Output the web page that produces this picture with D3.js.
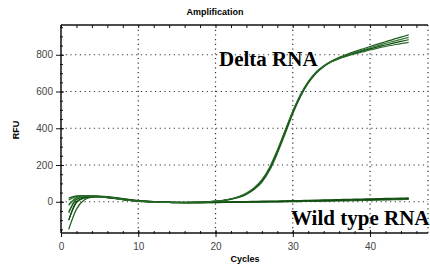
<!DOCTYPE html>
<html>
<head>
<meta charset="utf-8">
<script src="https://cdn.jsdelivr.net/npm/d3@7"></script>
<style>
  body { margin: 0; background: #fff; }
  svg { display: block; }
  .tick text { font-family: Arial, "Liberation Sans", sans-serif; font-size: 10px; fill: #444; }
</style>
</head>
<body>
<div class="chart"></div>
<script>
var svgWidth = 430;
var svgHeight = 265;

// cycle numbers and RFU readings per curve
var cycles = d3.range(1, 46);

var deltaA = [-60, 12, 26, 30, 28, 24, 19, 13, 7, 3, 0, -2, -3, -4, -4, -4, -3, -2, 0, 3, 8, 15, 26, 44, 72, 115, 182, 275, 382, 490, 582, 652, 705, 740, 766, 786, 802, 817, 831, 845, 858, 871, 884, 896, 908];
var deltaB = [-20, 20, 30, 31, 28, 23, 18, 12, 7, 3, 1, -1, -3, -4, -5, -5, -4, -3, -1, 2, 6, 13, 23, 40, 66, 106, 170, 262, 368, 478, 572, 645, 698, 735, 762, 782, 798, 812, 825, 838, 850, 862, 873, 884, 895];
var deltaC = [-100, -5, 20, 27, 27, 23, 18, 12, 7, 3, 0, -2, -3, -4, -5, -5, -4, -3, -1, 2, 7, 14, 25, 43, 70, 112, 178, 270, 376, 484, 576, 648, 700, 736, 762, 780, 795, 808, 820, 832, 843, 853, 863, 873, 882];
var deltaD = [10, 28, 32, 30, 27, 22, 17, 11, 6, 2, 0, -2, -3, -4, -4, -4, -3, -2, 0, 3, 8, 16, 28, 47, 76, 120, 188, 282, 388, 494, 584, 654, 704, 738, 762, 779, 792, 804, 815, 826, 836, 845, 853, 861, 868];

var wildA = [-150, -40, 10, 25, 28, 26, 22, 17, 11, 6, 2, 0, -2, -4, -5, -6, -6, -6, -5, -5, -4, -4, -3, -3, -2, -2, -1, -1, 0, 0, 1, 2, 2, 3, 4, 5, 5, 6, 7, 8, 9, 10, 11, 12, 13];
var wildB = [-55, 15, 30, 33, 31, 28, 23, 17, 11, 6, 3, 1, -1, -2, -3, -4, -4, -4, -3, -3, -2, -2, -1, 0, 0, 1, 2, 2, 3, 4, 5, 6, 7, 8, 9, 10, 10, 11, 12, 13, 14, 15, 16, 17, 18];
var wildC = [20, 32, 34, 32, 29, 25, 20, 15, 10, 6, 3, 1, 0, -1, -2, -2, -2, -2, -1, -1, 0, 0, 1, 1, 2, 3, 3, 4, 5, 6, 7, 8, 9, 10, 11, 12, 13, 14, 15, 16, 17, 18, 19, 20, 21];
var wildD = [-15, 22, 30, 30, 28, 24, 19, 14, 9, 5, 2, 0, -2, -3, -4, -5, -5, -5, -5, -4, -4, -3, -3, -2, -2, -1, 0, 0, 1, 2, 3, 3, 4, 5, 6, 7, 8, 8, 9, 10, 11, 12, 13, 14, 15];
var wildE = [-100, 0, 22, 28, 28, 25, 21, 15, 10, 5, 2, 0, -1, -3, -4, -4, -5, -5, -4, -4, -3, -3, -2, -1, -1, 0, 1, 1, 2, 3, 4, 5, 5, 6, 7, 8, 9, 10, 11, 12, 13, 14, 15, 16, 17];

var curves = [wildA, wildB, wildC, wildD, wildE, deltaA, deltaB, deltaC, deltaD];
var curveColors = ["#1f5f1f", "#3d7d3d", "#145214", "#2f6f2f", "#0f4a0f", "#1a5a1a", "#3a7a3a", "#124d12", "#2a6a2a"];

var xTicks = [0, 10, 20, 30, 40];
var yTicks = [0, 200, 400, 600, 800];

var margin = { top: 25, right: 2, bottom: 32, left: 61 };
var width = svgWidth - margin.left - margin.right;
var height = svgHeight - margin.top - margin.bottom;

var svg = d3.select(".chart")
  .append("svg")
  .attr("width", svgWidth)
  .attr("height", svgHeight);

var chartGroup = svg.append("g")
  .attr("transform", `translate(${margin.left}, ${margin.top})`);

var xScale = d3.scaleLinear().domain([0, 47.5]).range([0, width]);
var yScale = d3.scaleLinear().domain([-170, 962]).range([height, 0]);

// dotted grid
chartGroup.append("g")
  .selectAll("line")
  .data(xTicks.slice(1).concat([47.5]))
  .enter().append("line")
  .attr("x1", d => xScale(d)).attr("x2", d => xScale(d))
  .attr("y1", 0).attr("y2", height)
  .attr("stroke", "#333").attr("stroke-width", 1.2)
  .attr("stroke-dasharray", "1.2,3.5");

chartGroup.append("g")
  .selectAll("line")
  .data(yTicks)
  .enter().append("line")
  .attr("x1", 0).attr("x2", width)
  .attr("y1", d => yScale(d)).attr("y2", d => yScale(d))
  .attr("stroke", "#333").attr("stroke-width", 1.2)
  .attr("stroke-dasharray", "1.2,3.5");

// curves
var line = d3.line()
  .x((d, i) => xScale(cycles[i]))
  .y(d => yScale(d))
  .curve(d3.curveMonotoneX);

chartGroup.selectAll(".curve")
  .data(curves)
  .enter()
  .append("path")
  .attr("class", "curve")
  .attr("d", line)
  .attr("fill", "none")
  .attr("stroke", (d, i) => curveColors[i])
  .attr("stroke-width", 1.2);

// axes
var bottomAxis = d3.axisBottom(xScale).tickValues(xTicks).tickSize(4).tickPadding(6).tickFormat(d3.format("d"));
var minorX = d3.axisBottom(xScale).tickValues(d3.range(0, 48, 2)).tickSize(3).tickFormat("");
var leftAxis = d3.axisLeft(yScale).tickValues(yTicks).tickSize(5).tickFormat(d3.format("d"));
var minorY = d3.axisLeft(yScale).tickValues(d3.range(-150, 962, 50)).tickSize(3).tickFormat("");

function styleAxis(g) {
  g.select(".domain").remove();
  g.selectAll(".tick line").attr("stroke", "#111");
}

chartGroup.append("g").attr("transform", `translate(0, ${height - 2})`).call(minorX).call(styleAxis);
chartGroup.append("g").attr("transform", `translate(0, ${height})`).call(bottomAxis).call(styleAxis)
  .selectAll(".tick line").attr("y1", -3);
chartGroup.append("g").attr("transform", "translate(2, 0)").call(minorY).call(styleAxis);
chartGroup.append("g").call(leftAxis).call(styleAxis)
  .selectAll(".tick line").attr("x1", 3);

// top ticks
chartGroup.append("g").call(d3.axisTop(xScale).tickValues(d3.range(0, 48, 2)).tickSize(-3).tickFormat(""))
  .call(styleAxis);

// frame lines
chartGroup.append("line").attr("x1", 0).attr("x2", width).attr("y1", 0).attr("y2", 0)
  .attr("stroke", "#111").attr("stroke-width", 1.5);
chartGroup.append("line").attr("x1", 0).attr("x2", width).attr("y1", height).attr("y2", height)
  .attr("stroke", "#111").attr("stroke-width", 1.5);
chartGroup.append("line").attr("x1", 0).attr("x2", 0).attr("y1", 0).attr("y2", height)
  .attr("stroke", "#111").attr("stroke-width", 1.5);

// labels
svg.append("text")
  .attr("x", 215).attr("y", 15)
  .attr("text-anchor", "middle")
  .style("font-family", "Arial, 'Liberation Sans', sans-serif")
  .style("font-size", "9px").style("font-weight", "bold")
  .text("Amplification");

svg.append("text")
  .attr("transform", "translate(19, 130) rotate(-90)")
  .attr("text-anchor", "middle")
  .style("font-family", "Arial, 'Liberation Sans', sans-serif")
  .style("font-size", "9px").style("font-weight", "bold")
  .text("RFU");

svg.append("text")
  .attr("x", 245).attr("y", 262)
  .attr("text-anchor", "middle")
  .style("font-family", "Arial, 'Liberation Sans', sans-serif")
  .style("font-size", "9px").style("font-weight", "bold")
  .text("Cycles");

svg.append("text")
  .attr("x", 219).attr("y", 66)
  .style("font-family", "'Liberation Serif', 'Times New Roman', serif")
  .style("font-size", "21px").style("font-weight", "bold")
  .text("Delta RNA");

svg.append("text")
  .attr("x", 291).attr("y", 225)
  .style("font-family", "'Liberation Serif', 'Times New Roman', serif")
  .style("font-size", "21px").style("font-weight", "bold")
  .text("Wild type RNA");
</script>
</body>
</html>
